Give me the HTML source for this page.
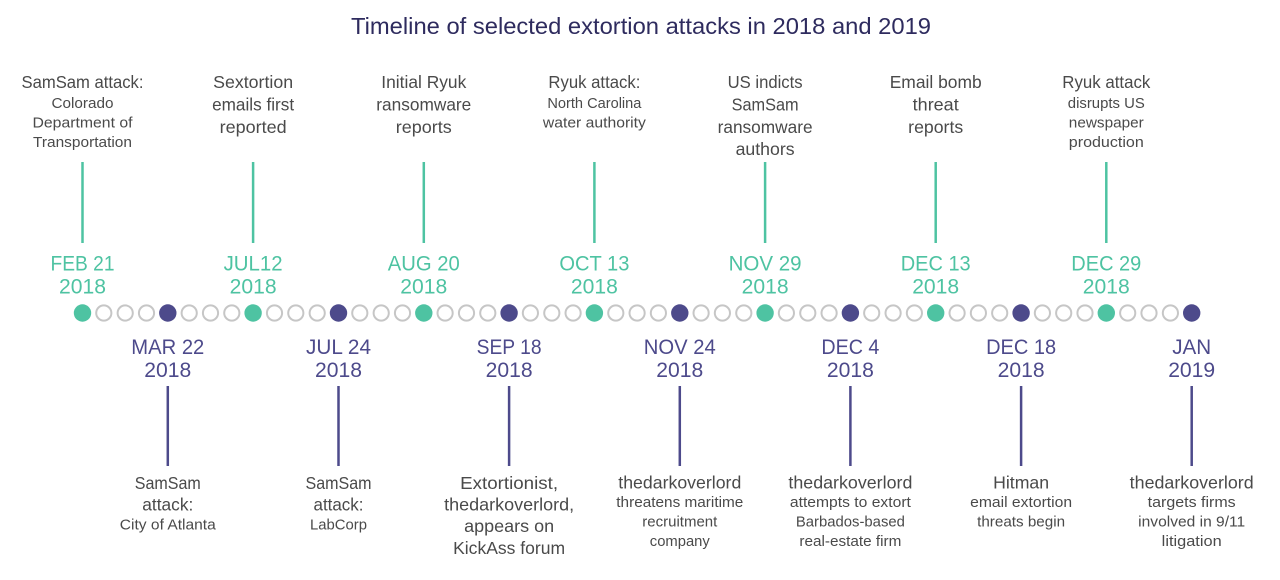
<!DOCTYPE html>
<html><head><meta charset="utf-8"><style>
html,body{margin:0;padding:0;background:#fff;}
svg{display:block;}
text{font-family:"Liberation Sans",Arial,sans-serif;}
.t{fill:#2e2b5e;font-size:23px;}
.L{fill:#4a4a4a;font-size:17.5px;}
.S{fill:#4a4a4a;font-size:15px;}
.dt{fill:#4ec3a2;font-size:21.5px;}
.dp{fill:#4d4a8b;font-size:21.5px;}
</style></head><body>
<svg width="1280" height="580" viewBox="0 0 1280 580" xmlns="http://www.w3.org/2000/svg" text-anchor="middle">
<rect width="1280" height="580" fill="#fff"/>
<text class="t" x="641" y="34" textLength="580" lengthAdjust="spacingAndGlyphs">Timeline of selected extortion attacks in 2018 and 2019</text>

<!-- top lines -->
<g stroke="#4ec3a2" stroke-width="2.5">
<line x1="82.5" y1="162" x2="82.5" y2="243"/>
<line x1="253.1" y1="162" x2="253.1" y2="243"/>
<line x1="423.8" y1="162" x2="423.8" y2="243"/>
<line x1="594.4" y1="162" x2="594.4" y2="243"/>
<line x1="765.1" y1="162" x2="765.1" y2="243"/>
<line x1="935.7" y1="162" x2="935.7" y2="243"/>
<line x1="1106.3" y1="162" x2="1106.3" y2="243"/>
</g>
<!-- bottom lines -->
<g stroke="#4d4a8b" stroke-width="2.5">
<line x1="167.8" y1="386" x2="167.8" y2="466"/>
<line x1="338.5" y1="386" x2="338.5" y2="466"/>
<line x1="509.1" y1="386" x2="509.1" y2="466"/>
<line x1="679.8" y1="386" x2="679.8" y2="466"/>
<line x1="850.4" y1="386" x2="850.4" y2="466"/>
<line x1="1021.1" y1="386" x2="1021.1" y2="466"/>
<line x1="1191.7" y1="386" x2="1191.7" y2="466"/>
</g>

<!-- top labels -->
<text class="L" x="82.5" y="88" textLength="122" lengthAdjust="spacingAndGlyphs">SamSam attack:</text>
<text class="S" x="82.5" y="108" textLength="62" lengthAdjust="spacingAndGlyphs">Colorado</text>
<text class="S" x="82.5" y="127.5" textLength="100" lengthAdjust="spacingAndGlyphs">Department of</text>
<text class="S" x="82.5" y="147" textLength="99" lengthAdjust="spacingAndGlyphs">Transportation</text>

<text class="L" x="253.1" y="88" textLength="80" lengthAdjust="spacingAndGlyphs">Sextortion</text>
<text class="L" x="253.1" y="110.5" textLength="82" lengthAdjust="spacingAndGlyphs">emails first</text>
<text class="L" x="253.1" y="133" textLength="67" lengthAdjust="spacingAndGlyphs">reported</text>

<text class="L" x="423.8" y="88" textLength="85" lengthAdjust="spacingAndGlyphs">Initial Ryuk</text>
<text class="L" x="423.8" y="110.5" textLength="95" lengthAdjust="spacingAndGlyphs">ransomware</text>
<text class="L" x="423.8" y="133" textLength="56" lengthAdjust="spacingAndGlyphs">reports</text>

<text class="L" x="594.4" y="88" textLength="92" lengthAdjust="spacingAndGlyphs">Ryuk attack:</text>
<text class="S" x="594.4" y="108" textLength="94" lengthAdjust="spacingAndGlyphs">North Carolina</text>
<text class="S" x="594.4" y="127.5" textLength="103" lengthAdjust="spacingAndGlyphs">water authority</text>

<text class="L" x="765.1" y="88" textLength="75" lengthAdjust="spacingAndGlyphs">US indicts</text>
<text class="L" x="765.1" y="110.5" textLength="67" lengthAdjust="spacingAndGlyphs">SamSam</text>
<text class="L" x="765.1" y="133" textLength="95" lengthAdjust="spacingAndGlyphs">ransomware</text>
<text class="L" x="765.1" y="155" textLength="59" lengthAdjust="spacingAndGlyphs">authors</text>

<text class="L" x="935.7" y="88" textLength="92" lengthAdjust="spacingAndGlyphs">Email bomb</text>
<text class="L" x="935.7" y="110.5" textLength="46" lengthAdjust="spacingAndGlyphs">threat</text>
<text class="L" x="935.7" y="133" textLength="55" lengthAdjust="spacingAndGlyphs">reports</text>

<text class="L" x="1106.3" y="88" textLength="88" lengthAdjust="spacingAndGlyphs">Ryuk attack</text>
<text class="S" x="1106.3" y="108" textLength="77" lengthAdjust="spacingAndGlyphs">disrupts US</text>
<text class="S" x="1106.3" y="127.5" textLength="75" lengthAdjust="spacingAndGlyphs">newspaper</text>
<text class="S" x="1106.3" y="147" textLength="75" lengthAdjust="spacingAndGlyphs">production</text>

<!-- teal dates -->
<text class="dt" x="82.5" y="270.5" textLength="64" lengthAdjust="spacingAndGlyphs">FEB 21</text>
<text class="dt" x="82.5" y="293.5" textLength="47" lengthAdjust="spacingAndGlyphs">2018</text>
<text class="dt" x="253.1" y="270.5" textLength="59" lengthAdjust="spacingAndGlyphs">JUL12</text>
<text class="dt" x="253.1" y="293.5" textLength="47" lengthAdjust="spacingAndGlyphs">2018</text>
<text class="dt" x="423.8" y="270.5" textLength="72" lengthAdjust="spacingAndGlyphs">AUG 20</text>
<text class="dt" x="423.8" y="293.5" textLength="47" lengthAdjust="spacingAndGlyphs">2018</text>
<text class="dt" x="594.4" y="270.5" textLength="70" lengthAdjust="spacingAndGlyphs">OCT 13</text>
<text class="dt" x="594.4" y="293.5" textLength="47" lengthAdjust="spacingAndGlyphs">2018</text>
<text class="dt" x="765.1" y="270.5" textLength="73" lengthAdjust="spacingAndGlyphs">NOV 29</text>
<text class="dt" x="765.1" y="293.5" textLength="47" lengthAdjust="spacingAndGlyphs">2018</text>
<text class="dt" x="935.7" y="270.5" textLength="70" lengthAdjust="spacingAndGlyphs">DEC 13</text>
<text class="dt" x="935.7" y="293.5" textLength="47" lengthAdjust="spacingAndGlyphs">2018</text>
<text class="dt" x="1106.3" y="270.5" textLength="70" lengthAdjust="spacingAndGlyphs">DEC 29</text>
<text class="dt" x="1106.3" y="293.5" textLength="47" lengthAdjust="spacingAndGlyphs">2018</text>

<!-- purple dates -->
<text class="dp" x="167.8" y="354" textLength="73" lengthAdjust="spacingAndGlyphs">MAR 22</text>
<text class="dp" x="167.8" y="377" textLength="47" lengthAdjust="spacingAndGlyphs">2018</text>
<text class="dp" x="338.5" y="354" textLength="65" lengthAdjust="spacingAndGlyphs">JUL 24</text>
<text class="dp" x="338.5" y="377" textLength="47" lengthAdjust="spacingAndGlyphs">2018</text>
<text class="dp" x="509.1" y="354" textLength="65" lengthAdjust="spacingAndGlyphs">SEP 18</text>
<text class="dp" x="509.1" y="377" textLength="47" lengthAdjust="spacingAndGlyphs">2018</text>
<text class="dp" x="679.8" y="354" textLength="72" lengthAdjust="spacingAndGlyphs">NOV 24</text>
<text class="dp" x="679.8" y="377" textLength="47" lengthAdjust="spacingAndGlyphs">2018</text>
<text class="dp" x="850.4" y="354" textLength="58" lengthAdjust="spacingAndGlyphs">DEC 4</text>
<text class="dp" x="850.4" y="377" textLength="47" lengthAdjust="spacingAndGlyphs">2018</text>
<text class="dp" x="1021.1" y="354" textLength="70" lengthAdjust="spacingAndGlyphs">DEC 18</text>
<text class="dp" x="1021.1" y="377" textLength="47" lengthAdjust="spacingAndGlyphs">2018</text>
<text class="dp" x="1191.7" y="354" textLength="39" lengthAdjust="spacingAndGlyphs">JAN</text>
<text class="dp" x="1191.7" y="377" textLength="47" lengthAdjust="spacingAndGlyphs">2019</text>

<!-- bottom labels -->
<text class="L" x="167.8" y="489" textLength="66" lengthAdjust="spacingAndGlyphs">SamSam</text>
<text class="L" x="167.8" y="510.5" textLength="51" lengthAdjust="spacingAndGlyphs">attack:</text>
<text class="S" x="167.8" y="529.5" textLength="96" lengthAdjust="spacingAndGlyphs">City of Atlanta</text>

<text class="L" x="338.5" y="489" textLength="66" lengthAdjust="spacingAndGlyphs">SamSam</text>
<text class="L" x="338.5" y="510.5" textLength="50" lengthAdjust="spacingAndGlyphs">attack:</text>
<text class="S" x="338.5" y="529.5" textLength="57" lengthAdjust="spacingAndGlyphs">LabCorp</text>

<text class="L" x="509.1" y="489" textLength="98" lengthAdjust="spacingAndGlyphs">Extortionist,</text>
<text class="L" x="509.1" y="510.5" textLength="130" lengthAdjust="spacingAndGlyphs">thedarkoverlord,</text>
<text class="L" x="509.1" y="532" textLength="90" lengthAdjust="spacingAndGlyphs">appears on</text>
<text class="L" x="509.1" y="554" textLength="112" lengthAdjust="spacingAndGlyphs">KickAss forum</text>

<text class="L" x="679.8" y="488.5" textLength="123" lengthAdjust="spacingAndGlyphs">thedarkoverlord</text>
<text class="S" x="679.8" y="507" textLength="127" lengthAdjust="spacingAndGlyphs">threatens maritime</text>
<text class="S" x="679.8" y="526.5" textLength="75" lengthAdjust="spacingAndGlyphs">recruitment</text>
<text class="S" x="679.8" y="546" textLength="60" lengthAdjust="spacingAndGlyphs">company</text>

<text class="L" x="850.4" y="488.5" textLength="124" lengthAdjust="spacingAndGlyphs">thedarkoverlord</text>
<text class="S" x="850.4" y="507" textLength="121" lengthAdjust="spacingAndGlyphs">attempts to extort</text>
<text class="S" x="850.4" y="526.5" textLength="109" lengthAdjust="spacingAndGlyphs">Barbados-based</text>
<text class="S" x="850.4" y="546" textLength="102" lengthAdjust="spacingAndGlyphs">real-estate firm</text>

<text class="L" x="1021.1" y="488.5" textLength="56" lengthAdjust="spacingAndGlyphs">Hitman</text>
<text class="S" x="1021.1" y="507" textLength="102" lengthAdjust="spacingAndGlyphs">email extortion</text>
<text class="S" x="1021.1" y="526.5" textLength="88" lengthAdjust="spacingAndGlyphs">threats begin</text>

<text class="L" x="1191.7" y="488.5" textLength="124" lengthAdjust="spacingAndGlyphs">thedarkoverlord</text>
<text class="S" x="1191.7" y="507" textLength="88" lengthAdjust="spacingAndGlyphs">targets firms</text>
<text class="S" x="1191.7" y="526.5" textLength="107" lengthAdjust="spacingAndGlyphs">involved in 9/11</text>
<text class="S" x="1191.7" y="546" textLength="60" lengthAdjust="spacingAndGlyphs">litigation</text>

<!-- dots -->
<g fill="none" stroke="#c6c6c6" stroke-width="2">
<circle cx="103.8" cy="313" r="7.6"/><circle cx="125.2" cy="313" r="7.6"/><circle cx="146.5" cy="313" r="7.6"/>
<circle cx="189.2" cy="313" r="7.6"/><circle cx="210.5" cy="313" r="7.6"/><circle cx="231.8" cy="313" r="7.6"/>
<circle cx="274.5" cy="313" r="7.6"/><circle cx="295.8" cy="313" r="7.6"/><circle cx="317.2" cy="313" r="7.6"/>
<circle cx="359.8" cy="313" r="7.6"/><circle cx="381.2" cy="313" r="7.6"/><circle cx="402.5" cy="313" r="7.6"/>
<circle cx="445.1" cy="313" r="7.6"/><circle cx="466.5" cy="313" r="7.6"/><circle cx="487.8" cy="313" r="7.6"/>
<circle cx="530.4" cy="313" r="7.6"/><circle cx="551.8" cy="313" r="7.6"/><circle cx="573.1" cy="313" r="7.6"/>
<circle cx="615.8" cy="313" r="7.6"/><circle cx="637.1" cy="313" r="7.6"/><circle cx="658.4" cy="313" r="7.6"/>
<circle cx="701.1" cy="313" r="7.6"/><circle cx="722.4" cy="313" r="7.6"/><circle cx="743.8" cy="313" r="7.6"/>
<circle cx="786.4" cy="313" r="7.6"/><circle cx="807.8" cy="313" r="7.6"/><circle cx="829.1" cy="313" r="7.6"/>
<circle cx="871.7" cy="313" r="7.6"/><circle cx="893.1" cy="313" r="7.6"/><circle cx="914.4" cy="313" r="7.6"/>
<circle cx="957.1" cy="313" r="7.6"/><circle cx="978.4" cy="313" r="7.6"/><circle cx="999.7" cy="313" r="7.6"/>
<circle cx="1042.4" cy="313" r="7.6"/><circle cx="1063.7" cy="313" r="7.6"/><circle cx="1085.0" cy="313" r="7.6"/>
<circle cx="1127.7" cy="313" r="7.6"/><circle cx="1149.0" cy="313" r="7.6"/><circle cx="1170.4" cy="313" r="7.6"/>
</g>
<g fill="#4ec3a2">
<circle cx="82.5" cy="313" r="8.7"/><circle cx="253.1" cy="313" r="8.7"/><circle cx="423.8" cy="313" r="8.7"/>
<circle cx="594.4" cy="313" r="8.7"/><circle cx="765.1" cy="313" r="8.7"/><circle cx="935.7" cy="313" r="8.7"/>
<circle cx="1106.3" cy="313" r="8.7"/>
</g>
<g fill="#4d4a8b">
<circle cx="167.8" cy="313" r="8.7"/><circle cx="338.5" cy="313" r="8.7"/><circle cx="509.1" cy="313" r="8.7"/>
<circle cx="679.8" cy="313" r="8.7"/><circle cx="850.4" cy="313" r="8.7"/><circle cx="1021.1" cy="313" r="8.7"/>
<circle cx="1191.7" cy="313" r="8.7"/>
</g>
</svg>
</body></html>
